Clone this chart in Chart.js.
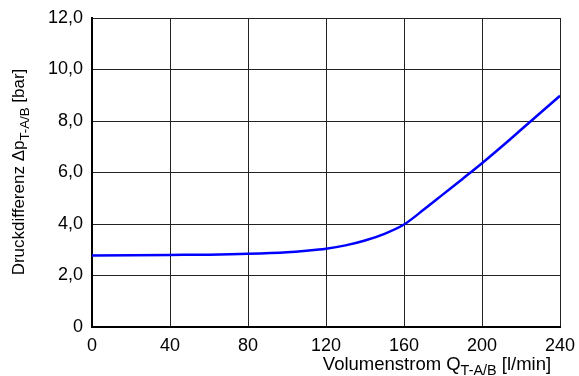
<!DOCTYPE html>
<html>
<head>
<meta charset="utf-8">
<script src="https://cdn.jsdelivr.net/npm/chart.js@4/dist/chart.umd.min.js"></script>
<style>
html,body{margin:0;padding:0;background:#fff;}
#wrap{width:579px;height:376px;}
</style>
</head>
<body>
<div id="wrap"><canvas id="c" width="579" height="376"></canvas></div>
<script>
const flowValues = [0, 20, 40, 60, 80, 100, 110, 120, 130, 140, 150, 160, 170, 180, 190, 200, 210, 220, 230, 240];
const pressureValues = [2.78, 2.79, 2.8, 2.81, 2.84, 2.9, 2.96, 3.04, 3.17, 3.36, 3.62, 3.98, 4.55, 5.15, 5.75, 6.36, 7.0, 7.66, 8.32, 8.98];
const xTicks = [0, 40, 80, 120, 160, 200, 240];
const yTicks = [0, 2, 4, 6, 8, 10, 12];
const yTitleParts = [["Druckdifferenz Δp", false], ["T-A/B", true], [" [bar]", false]];
const xTitleParts = [["Volumenstrom Q", false], ["T-A/B", true], [" [l/min]", false]];

const FONT = "'Liberation Sans', Arial, sans-serif";

function drawParts(ctx, parts, size) {
  let total = 0;
  const widths = parts.map(p => {
    ctx.font = (p[1] ? size * 0.78 : size) + "px " + FONT;
    const w = ctx.measureText(p[0]).width;
    total += w;
    return w;
  });
  let x = -total / 2;
  parts.forEach((p, i) => {
    ctx.font = (p[1] ? size * 0.78 : size) + "px " + FONT;
    ctx.fillText(p[0], x, p[1] ? size * 0.28 : 0);
    x += widths[i];
  });
}

const titlePlugin = {
  id: 'titles',
  afterDraw(chart) {
    const ctx = chart.ctx;
    ctx.save();
    ctx.fillStyle = '#000';
    ctx.textBaseline = 'alphabetic';
    ctx.textAlign = 'left';
    ctx.translate(24, 172);
    ctx.rotate(-Math.PI / 2);
    drawParts(ctx, yTitleParts, 17);
    ctx.restore();
    ctx.save();
    ctx.fillStyle = '#000';
    ctx.textBaseline = 'alphabetic';
    ctx.textAlign = 'left';
    ctx.translate(437, 370);
    drawParts(ctx, xTitleParts, 18.5);
    ctx.restore();
  }
};

new Chart(document.getElementById('c'), {
  type: 'line',
  data: {
    datasets: [{
      data: flowValues.map((x, i) => ({x: x, y: pressureValues[i]})),
      borderColor: '#0000ff',
      borderWidth: 2.5,
      pointRadius: 0,
      fill: false,
      cubicInterpolationMode: 'monotone'
    }]
  },
  options: {
    responsive: false,
    animation: false,
    devicePixelRatio: 1,
    layout: {autoPadding: false, padding: {left: 0, right: 19, top: 18, bottom: 0}},
    plugins: {legend: {display: false}, tooltip: {enabled: false}},
    scales: {
      x: {
        type: 'linear', min: 0, max: 240,
        afterFit(s) { s.height = 49; s.paddingLeft = 0; s.paddingRight = 0; },
        afterBuildTicks(s) { s.ticks = xTicks.map(v => ({value: v})); },
        grid: {color: '#222', lineWidth: 1, drawTicks: false},
        border: {color: '#000', width: 2},
        ticks: {color: '#000', font: {family: FONT, size: 18}, padding: 8, maxRotation: 0, autoSkip: false}
      },
      y: {
        min: 0, max: 12,
        afterFit(s) { s.width = 92; s.paddingTop = 0; s.paddingBottom = 0; },
        afterBuildTicks(s) { s.ticks = yTicks.map(v => ({value: v})); },
        grid: {color: '#222', lineWidth: 1, drawTicks: false},
        border: {color: '#000', width: 2},
        ticks: {color: '#000', font: {family: FONT, size: 18}, padding: 9, autoSkip: false,
          callback: v => v === 0 ? '0' : v.toFixed(1).replace('.', ',')}
      }
    }
  },
  plugins: [titlePlugin]
});
</script>
</body>
</html>
